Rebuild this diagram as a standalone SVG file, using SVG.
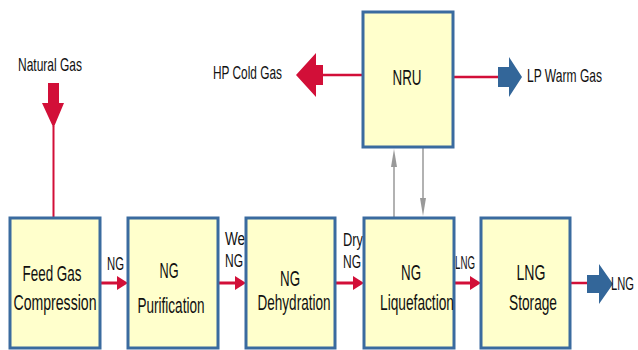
<svg xmlns="http://www.w3.org/2000/svg" width="638" height="350" viewBox="0 0 638 350">
<style>
.box{fill:#FFFFCC;stroke:#3A6B9F;stroke-width:3}
.t{font-family:"Liberation Sans",Arial,sans-serif;fill:#111}
.big{font-size:22px;text-anchor:middle}
.med{font-size:19px}
.sm{font-size:18px}
.rl{stroke:#D20F38;fill:none}
.rf{fill:#D20F38}
.bf{fill:#336699}
.gl{stroke:#999;stroke-width:1.5;fill:none}
.gf{fill:#999}
</style>
<rect width="638" height="350" fill="#fff"/>
<g id="connectors">
  <polygon class="rf" points="48,83 59,83 59,103 64,103 53.5,128 42,103 48,103"/>
  <line class="rl" x1="53.5" y1="126" x2="53.5" y2="218" stroke-width="2"/>
  <polygon class="rf" points="296,75 316,53 316,65 323,65 323,85 316,85 316,97"/>
  <line class="rl" x1="322" y1="75" x2="363" y2="75" stroke-width="2.5"/>
  <line class="rl" x1="453" y1="77" x2="499" y2="77" stroke-width="2.5"/>
  <polygon class="bf" points="498,67 509,67 509,57 522,77 509,97 509,87 498,87"/>
  <line class="rl" x1="570" y1="283" x2="588" y2="283" stroke-width="2.5"/>
  <polygon class="bf" points="587,275 599,275 599,264 613,284 599,304 599,293 587,293"/>
  <line class="rl" x1="100" y1="283" x2="119" y2="283" stroke-width="3"/>
  <polygon class="rf" points="117,276 128,283 117,290"/>
  <line class="rl" x1="218" y1="283" x2="237" y2="283" stroke-width="3"/>
  <polygon class="rf" points="235,276 246,283 235,290"/>
  <line class="rl" x1="335" y1="283" x2="355" y2="283" stroke-width="3"/>
  <polygon class="rf" points="353,276 364,283 353,290"/>
  <line class="rl" x1="454" y1="283" x2="472" y2="283" stroke-width="3"/>
  <polygon class="rf" points="470,276 481,283 470,290"/>
  <line class="gl" x1="394" y1="218" x2="394" y2="164"/>
  <polygon class="gf" points="391,167 394,149 397,167"/>
  <line class="gl" x1="423" y1="148" x2="423" y2="200"/>
  <polygon class="gf" points="420,198 423,216 426,198"/>
  <text class="t med" x="18" y="71" textLength="64" lengthAdjust="spacingAndGlyphs">Natural Gas</text>
  <text class="t med" x="213" y="79" textLength="69" lengthAdjust="spacingAndGlyphs">HP Cold Gas</text>
  <text class="t med" x="527" y="82" textLength="75" lengthAdjust="spacingAndGlyphs">LP Warm Gas</text>
  <text class="t sm" x="107" y="270" textLength="17" lengthAdjust="spacingAndGlyphs">NG</text>
  <text class="t sm" x="225" y="245" textLength="24" lengthAdjust="spacingAndGlyphs">Wet</text>
  <text class="t sm" x="225" y="267" textLength="18" lengthAdjust="spacingAndGlyphs">NG</text>
  <text class="t sm" x="343" y="246" textLength="20" lengthAdjust="spacingAndGlyphs">Dry</text>
  <text class="t sm" x="343" y="268" textLength="18" lengthAdjust="spacingAndGlyphs">NG</text>
  <text class="t sm" x="455" y="269" textLength="20" lengthAdjust="spacingAndGlyphs">LNG</text>
  <text class="t sm" x="611" y="290" textLength="23" lengthAdjust="spacingAndGlyphs">LNG</text>
</g>
<g id="nru">
  <rect class="box" x="363" y="12" width="90" height="135"/>
  <text class="t big" x="407" y="85" textLength="29" lengthAdjust="spacingAndGlyphs">NRU</text>
</g>
<g id="feed-gas-compression">
  <rect class="box" x="10" y="218" width="90" height="130"/>
  <text class="t big" x="52" y="281" textLength="59" lengthAdjust="spacingAndGlyphs">Feed Gas</text>
  <text class="t big" x="55" y="310" textLength="83" lengthAdjust="spacingAndGlyphs">Compression</text>
</g>
<g id="ng-purification">
  <rect class="box" x="128" y="218" width="90" height="130"/>
  <text class="t big" x="169" y="278" textLength="19" lengthAdjust="spacingAndGlyphs">NG</text>
  <text class="t big" x="171" y="313" textLength="67" lengthAdjust="spacingAndGlyphs">Purification</text>
</g>
<g id="ng-dehydration">
  <rect class="box" x="246" y="218" width="89" height="130"/>
  <text class="t big" x="290" y="286" textLength="20" lengthAdjust="spacingAndGlyphs">NG</text>
  <text class="t big" x="294" y="310" textLength="73" lengthAdjust="spacingAndGlyphs">Dehydration</text>
</g>
<g id="ng-liquefaction">
  <rect class="box" x="364" y="218" width="90" height="130"/>
  <text class="t big" x="411" y="280" textLength="20" lengthAdjust="spacingAndGlyphs">NG</text>
  <text class="t big" x="417" y="310" textLength="74" lengthAdjust="spacingAndGlyphs">Liquefaction</text>
</g>
<g id="lng-storage">
  <rect class="box" x="481" y="218" width="89" height="130"/>
  <text class="t big" x="531" y="280" textLength="29" lengthAdjust="spacingAndGlyphs">LNG</text>
  <text class="t big" x="533" y="310" textLength="48" lengthAdjust="spacingAndGlyphs">Storage</text>
</g>
</svg>
